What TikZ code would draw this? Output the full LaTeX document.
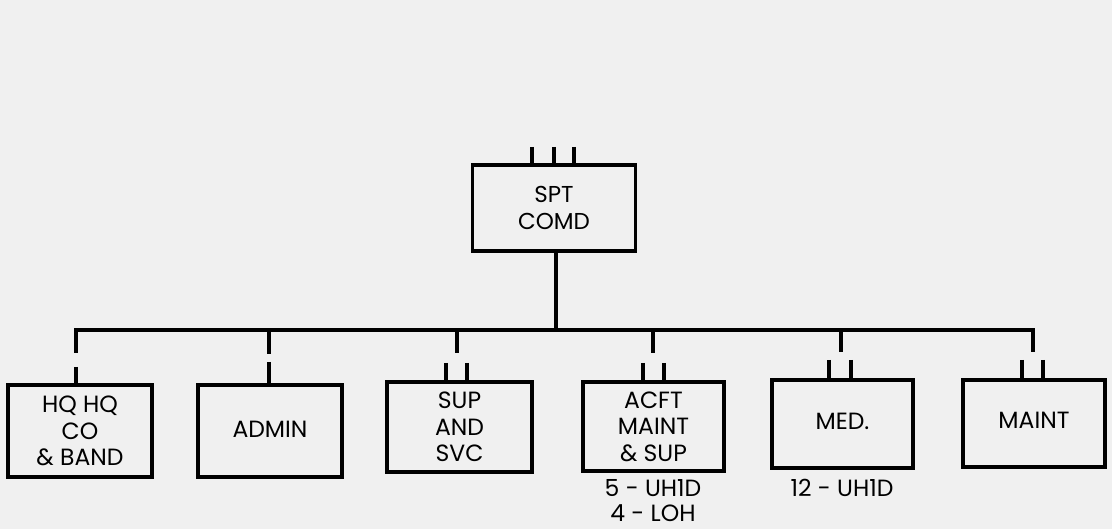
\documentclass[tikz,border=0pt]{standalone}
\usepackage{fontspec}
\setmainfont{Poppins}
\begin{document}
\begin{tikzpicture}[x=1pt,y=-1pt,
  unit/.style={draw=black,line width=3.2pt,align=center,inner sep=0pt,font=\fontsize{23.5}{26.5}\selectfont,fill=none},
  wire/.style={line width=4pt},
  tick/.style={line width=4pt},
  note/.style={font=\fontsize{23.5}{26}\selectfont,inner sep=0pt}]
\fill[black!6] (0,0) rectangle (1112,529);
\useasboundingbox (0,0) rectangle (1112,529);
% boxes
\node[unit,minimum width=163pt,minimum height=86pt,font=\fontsize{23}{27}\selectfont] (spt) at (554,208) {SPT\\COMD};
\node[unit,minimum width=144pt,minimum height=92pt] (hq) at (80,431) {HQ HQ\\CO\\\& BAND};
\node[unit,minimum width=144pt,minimum height=92pt] (admin) at (270,431) {\raisebox{4pt}{ADMIN}};
\node[unit,minimum width=145pt,minimum height=90pt] (sup) at (459.5,427) {SUP\\AND\\SVC};
\node[unit,minimum width=141pt,minimum height=89pt] (acft) at (653.5,426.5) {ACFT\\MAINT\\\& SUP};
\node[unit,minimum width=141pt,minimum height=88pt] (med) at (842.5,424) {\raisebox{6pt}{MED.}};
\node[unit,minimum width=142pt,minimum height=87pt] (maint) at (1034,423.5) {\raisebox{6pt}{MAINT}};
% notes
\node[note] (n1) at (653,488) {5 - UH1D};
\node[note] (n2) at (653,513) {4 - LOH};
\node[note] (n3) at (842,488) {12 - UH1D};
% bus coordinates
\coordinate (bl) at (76,330);
\coordinate (br) at (1033,330);
\coordinate (bs) at (556,330);
% ticks above spt
\foreach \x in {532,554,574} \draw[tick] (\x,147) -- (\x,166);
% main trunk
\draw[wire] (spt.south -| bs) -- (bs);
\draw[wire,line join=miter] (76,353) -- (bl) -- (br) -- (1033,352);
% HQ drop
\draw[wire] (76,367) -- (76,386);
% ADMIN drop
\draw[wire] (269,330) -- (269,354);
\draw[wire] (269,362) -- (269,386);
% SUP drop
\draw[wire] (457,330) -- (457,353);
\foreach \x in {446,467} \draw[tick] (\x,363) -- (\x,383);
% ACFT drop
\draw[wire] (653,330) -- (653,353);
\foreach \x in {643,664} \draw[tick] (\x,363) -- (\x,383);
% MED drop
\draw[wire] (841,330) -- (841,352);
\foreach \x in {829,851} \draw[tick] (\x,360) -- (\x,381);
% MAINT ticks
\foreach \x in {1022,1043} \draw[tick] (\x,360) -- (\x,381);
\end{tikzpicture}
\end{document}
